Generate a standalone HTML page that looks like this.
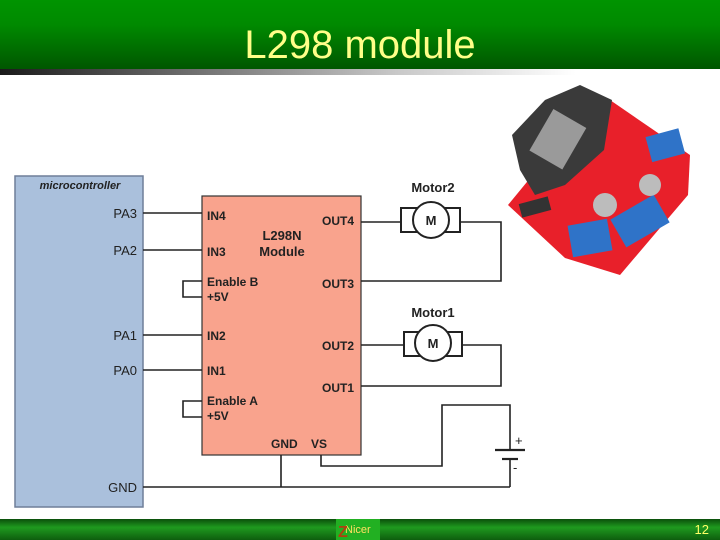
<!DOCTYPE html>
<html><head><meta charset="utf-8"><style>
html,body{margin:0;padding:0;width:720px;height:540px;overflow:hidden;background:#fff}
svg{display:block}
text{font-family:"Liberation Sans",Arial,sans-serif}
</style></head><body>
<svg width="720" height="540" viewBox="0 0 720 540" xmlns="http://www.w3.org/2000/svg">
<defs>
<linearGradient id="hd" x1="0" y1="0" x2="0" y2="1"><stop offset="0" stop-color="#009400"/><stop offset="0.35" stop-color="#008a00"/><stop offset="1" stop-color="#005500"/></linearGradient>
<linearGradient id="gb" x1="0" y1="0" x2="1" y2="0"><stop offset="0" stop-color="#1a1a1a"/><stop offset="0.55" stop-color="#c8c8c8"/><stop offset="0.8" stop-color="#ffffff"/></linearGradient>
<linearGradient id="ft" x1="0" y1="0" x2="0" y2="1"><stop offset="0" stop-color="#0b4f0b"/><stop offset="0.4" stop-color="#1f9a1f"/><stop offset="1" stop-color="#0e5e0e"/></linearGradient>
</defs>
<rect x="0" y="0" width="720" height="70" fill="url(#hd)"/>
<rect x="0" y="69" width="720" height="6" fill="url(#gb)"/>
<text x="360" y="58" text-anchor="middle" font-size="40" fill="#ffff88" font-family="'DejaVu Sans Condensed','Liberation Sans Narrow','Liberation Sans',sans-serif">L298 module</text>

<rect x="0" y="519" width="720" height="21" fill="url(#ft)"/>
<rect x="336" y="519" width="44" height="21" fill="#22b022"/>
<text x="345" y="533" font-size="11" fill="#ffe060">Nicer</text>
<text x="338" y="537" font-size="16" fill="#b04010" font-weight="bold">Z</text>
<text x="709" y="534" text-anchor="end" font-size="13" fill="#ffff66">12</text>

<!-- board image -->
<g>
<polygon points="508,205 545,160 610,100 690,155 688,195 620,275 565,258" fill="#e8202a"/>
<polygon points="512,135 545,100 580,85 612,100 604,150 565,185 535,195 520,170" fill="#3a3a3a"/>
<rect x="540" y="115" width="38" height="48" fill="#9a9a9a" transform="rotate(30 558 137)"/>
<rect x="570" y="222" width="40" height="32" fill="#2f73c8" transform="rotate(-10 590 238)"/>
<rect x="615" y="205" width="50" height="32" fill="#2f73c8" transform="rotate(-30 640 221)"/>
<rect x="648" y="132" width="34" height="26" fill="#2f73c8" transform="rotate(-15 666 144)"/>
<circle cx="605" cy="205" r="12" fill="#bcbcbc"/>
<circle cx="650" cy="185" r="11" fill="#bcbcbc"/>
<rect x="520" y="200" width="30" height="14" fill="#333" transform="rotate(-15 535 207)"/>
</g>

<!-- microcontroller -->
<rect x="15" y="176" width="128" height="331" fill="#aac0dc" stroke="#6f7f99" stroke-width="1.5"/>
<text x="80" y="189" text-anchor="middle" font-size="11" font-weight="bold" font-style="italic" fill="#222">microcontroller</text>
<g font-size="13" fill="#222" text-anchor="end">
<text x="137" y="218">PA3</text><text x="137" y="255">PA2</text>
<text x="137" y="340">PA1</text><text x="137" y="375">PA0</text>
<text x="137" y="492">GND</text>
</g>

<!-- module -->
<rect x="202" y="196" width="159" height="259" fill="#f9a38d" stroke="#333" stroke-width="1.2"/>
<g font-size="12" font-weight="bold" fill="#222">
<text x="207" y="220">IN4</text><text x="207" y="256">IN3</text>
<text x="207" y="286">Enable B</text><text x="207" y="301">+5V</text>
<text x="207" y="340">IN2</text><text x="207" y="375">IN1</text>
<text x="207" y="405">Enable A</text><text x="207" y="420">+5V</text>
<text x="322" y="225">OUT4</text><text x="322" y="288">OUT3</text>
<text x="322" y="350">OUT2</text><text x="322" y="392">OUT1</text>
<text x="271" y="448">GND</text><text x="311" y="448">VS</text>
<text x="282" y="240" font-size="13" text-anchor="middle">L298N</text>
<text x="282" y="256" font-size="13" text-anchor="middle">Module</text>
<text x="433" y="192" font-size="13" text-anchor="middle">Motor2</text>
<text x="433" y="317" font-size="13" text-anchor="middle">Motor1</text>
</g>

<g stroke="#222" stroke-width="1.6" fill="none">
<line x1="143" y1="213" x2="202" y2="213"/>
<line x1="143" y1="250" x2="202" y2="250"/>
<line x1="143" y1="335" x2="202" y2="335"/>
<line x1="143" y1="370" x2="202" y2="370"/>
<polyline points="202,281 183,281 183,297 202,297"/>
<polyline points="202,401 183,401 183,417 202,417"/>
<line x1="143" y1="487" x2="510" y2="487"/>
<line x1="281" y1="455" x2="281" y2="487"/>
<polyline points="321,455 321,466 442,466 442,405 510,405 510,450"/>
<line x1="510" y1="458" x2="510" y2="487"/>
<line x1="495" y1="450" x2="525" y2="450" stroke-width="2.2"/>
<line x1="502" y1="459" x2="518" y2="459" stroke-width="2.2"/>
<line x1="361" y1="222" x2="401" y2="222"/>
<polyline points="460,222 501,222 501,281 361,281"/>
<rect x="401" y="208" width="59" height="24" stroke-width="2"/>
<circle cx="431" cy="220" r="18" fill="#fff" stroke-width="2"/>
<line x1="361" y1="345" x2="404" y2="345"/>
<polyline points="462,345 501,345 501,386 361,386"/>
<rect x="404" y="332" width="58" height="24" stroke-width="2"/>
<circle cx="433" cy="343" r="18" fill="#fff" stroke-width="2"/>
</g>
<g font-size="13" font-weight="bold" fill="#222" text-anchor="middle">
<text x="431" y="225">M</text><text x="433" y="348">M</text>
</g>
<text x="515" y="445" font-size="13" fill="#222">+</text>
<text x="513" y="472" font-size="13" fill="#222">-</text>
</svg>
</body></html>
